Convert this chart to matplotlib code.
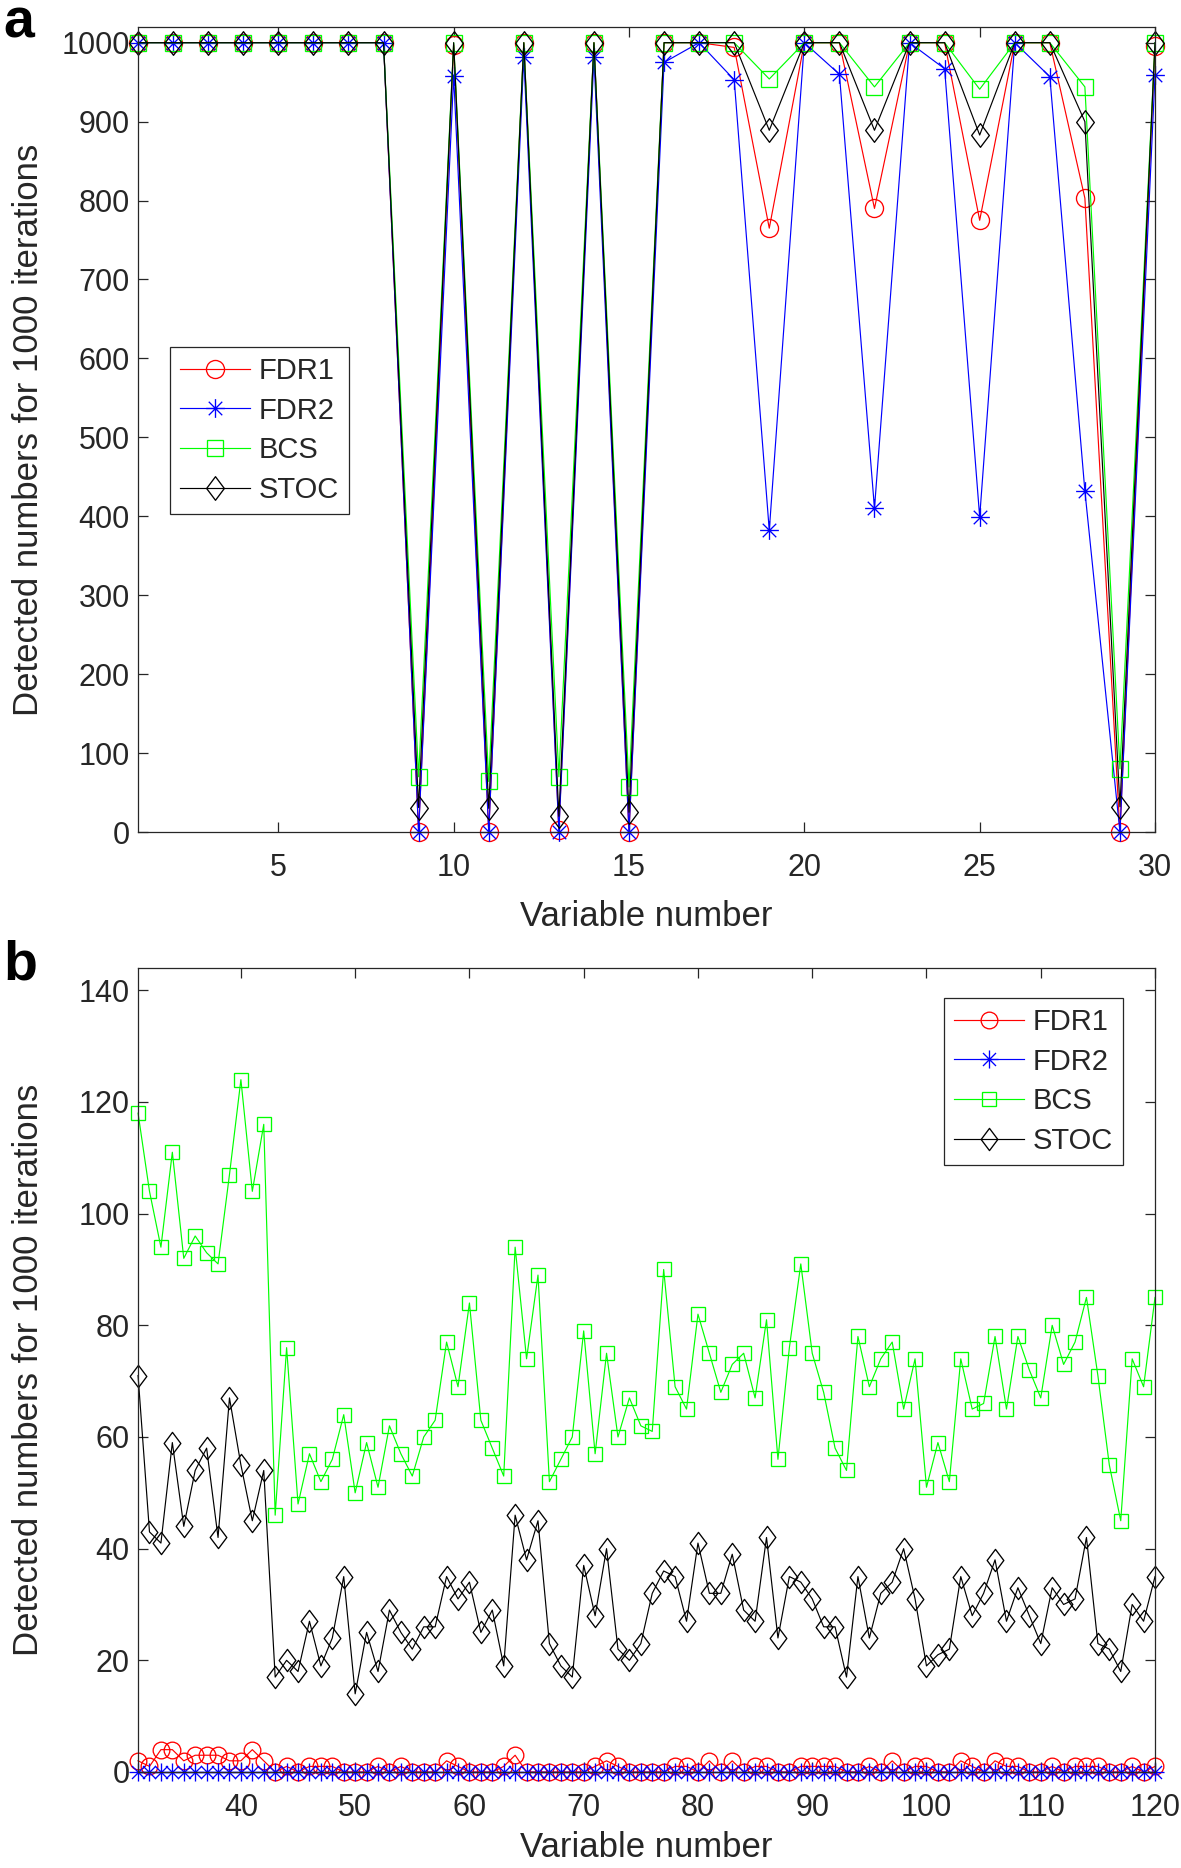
import matplotlib
matplotlib.use('Agg')
import matplotlib.pyplot as plt
from matplotlib.path import Path

plt.rcParams['font.family'] = ['Liberation Sans', 'DejaVu Sans']

# ---------------- data: panel a (variables 1-30) ----------------
x_a = [1, 2, 3, 4, 5, 6, 7, 8, 9, 10, 11, 12, 13, 14, 15,
       16, 17, 18, 19, 20, 21, 22, 23, 24, 25, 26, 27, 28, 29, 30]
fdr1_a = [1000, 1000, 1000, 1000, 1000, 1000, 1000, 1000, 0, 997,
          0, 1000, 3, 1000, 0, 1000, 1000, 994, 765, 1000,
          1000, 790, 1000, 1000, 775, 1000, 1000, 803, 0, 996]
fdr2_a = [1000, 1000, 1000, 1000, 1000, 1000, 1000, 1000, 0, 958,
          0, 982, 0, 982, 0, 975, 1000, 953, 382, 1000,
          960, 410, 1000, 967, 399, 1000, 957, 432, 0, 959]
bcs_a = [1000, 1000, 1000, 1000, 1000, 1000, 1000, 1000, 70, 1000,
         64, 1000, 70, 1000, 57, 1000, 1000, 1000, 954, 1000,
         1000, 944, 1000, 1000, 941, 1000, 1000, 944, 80, 1000]
stoc_a = [1000, 1000, 1000, 1000, 1000, 1000, 1000, 1000, 31, 1000,
          30, 1000, 20, 1000, 25, 1000, 1000, 1000, 889, 1000,
          1000, 889, 1000, 1000, 883, 1000, 1000, 900, 32, 1000]

# ---------------- data: panel b (variables 31-120) ----------------
x_b = list(range(31, 121))
fdr1_b = [2, 1, 4, 4, 2, 3, 3, 3, 2, 2,
          4, 2, 0, 1, 0, 1, 1, 1, 0, 0,
          0, 1, 0, 1, 0, 0, 0, 2, 1, 0,
          0, 0, 1, 3, 0, 0, 0, 0, 0, 0,
          1, 2, 1, 0, 0, 0, 0, 1, 1, 0,
          2, 0, 2, 0, 1, 1, 0, 0, 1, 1,
          1, 1, 0, 0, 1, 0, 2, 0, 1, 1,
          0, 0, 2, 1, 0, 2, 1, 1, 0, 0,
          1, 0, 1, 1, 1, 0, 0, 1, 0, 1]
fdr2_b = [0, 0, 0, 0, 0, 0, 0, 0, 0, 0,
          0, 0, 0, 0, 0, 0, 0, 0, 0, 0,
          0, 0, 0, 0, 0, 0, 0, 0, 0, 0,
          0, 0, 0, 0, 0, 0, 0, 0, 0, 0,
          0, 0, 0, 0, 0, 0, 0, 0, 0, 0,
          0, 0, 0, 0, 0, 0, 0, 0, 0, 0,
          0, 0, 0, 0, 0, 0, 0, 0, 0, 0,
          0, 0, 0, 0, 0, 0, 0, 0, 0, 0,
          0, 0, 0, 0, 0, 0, 0, 0, 0, 0]
bcs_b = [118, 104, 94, 111, 92, 96, 93, 91, 107, 124,
         104, 116, 46, 76, 48, 57, 52, 56, 64, 50,
         59, 51, 62, 57, 53, 60, 63, 77, 69, 84,
         63, 58, 53, 94, 74, 89, 52, 56, 60, 79,
         57, 75, 60, 67, 62, 61, 90, 69, 65, 82,
         75, 68, 73, 75, 67, 81, 56, 76, 91, 75,
         68, 58, 54, 78, 69, 74, 77, 65, 74, 51,
         59, 52, 74, 65, 66, 78, 65, 78, 72, 67,
         80, 73, 77, 85, 71, 55, 45, 74, 69, 85]
stoc_b = [71, 43, 41, 59, 44, 54, 58, 42, 67, 55,
          45, 54, 17, 20, 18, 27, 19, 24, 35, 14,
          25, 18, 29, 25, 22, 26, 26, 35, 31, 34,
          25, 29, 19, 46, 38, 45, 23, 19, 17, 37,
          28, 40, 22, 20, 23, 32, 36, 35, 27, 41,
          32, 32, 39, 29, 27, 42, 24, 35, 34, 31,
          26, 26, 17, 35, 24, 32, 34, 40, 31, 19,
          21, 22, 35, 28, 32, 38, 27, 33, 28, 23,
          33, 30, 31, 42, 23, 22, 18, 30, 27, 35]

labels = ['FDR1', 'FDR2', 'BCS', 'STOC']
colors = ['#FF0000', '#0000FF', '#00FF00', '#000000']
xticks_a = [5, 10, 15, 20, 25, 30]
yticks_a = [0, 100, 200, 300, 400, 500, 600, 700, 800, 900, 1000]
xticks_b = [40, 50, 60, 70, 80, 90, 100, 110, 120]
yticks_b = [0, 20, 40, 60, 80, 100, 120, 140]

# MATLAB-like markers
ast = Path([(-1, 0), (1, 0), (0, -1), (0, 1),
            (-0.72, -0.72), (0.72, 0.72), (-0.72, 0.72), (0.72, -0.72)],
           [Path.MOVETO, Path.LINETO] * 4)
dia = Path([(0, 1), (0.75, 0), (0, -1), (-0.75, 0), (0, 1)],
           [Path.MOVETO, Path.LINETO, Path.LINETO, Path.LINETO, Path.CLOSEPOLY])
markers = ['o', ast, 's', dia]
msizes_a = [13, 13.5, 11, 17]
msizes_b = [12, 13, 10.5, 16]

TXT = '#262626'

fig = plt.figure(figsize=(11.81, 18.68), dpi=100)
axa = fig.add_axes([0.1169, 0.5546, 0.8611, 0.4310])
axb = fig.add_axes([0.1169, 0.0514, 0.8611, 0.4304])


def draw(ax, x, ys, msizes):
    for y, lab, c, m, ms in zip(ys, labels, colors, markers, msizes):
        ax.plot(x, y, color=c, lw=0.85, marker=m, ms=ms, mfc='none',
                mec=c, mew=0.95, label=lab, clip_on=False)


def style(ax, xlab_y):
    for s in ax.spines.values():
        s.set_color(TXT)
        s.set_linewidth(0.9)
    ax.tick_params(direction='in', length=7, width=0.9, color=TXT,
                   labelcolor=TXT, labelsize=22, top=True, right=True)
    ax.tick_params(axis='y', pad=6)
    ax.tick_params(axis='x', pad=15)
    ax.set_ylabel('Detected numbers for 1000 iterations', fontsize=25, color=TXT)
    ax.set_xlabel('Variable number', fontsize=25, color=TXT)
    ax.yaxis.set_label_coords(-0.0914, 0.5)
    ax.xaxis.set_label_coords(0.5, xlab_y)


def legend(ax, loc, anchor):
    leg = ax.legend(loc=loc, bbox_to_anchor=anchor, borderaxespad=0,
                    fontsize=21, frameon=True, fancybox=False,
                    edgecolor=TXT, framealpha=1, handlelength=2.4,
                    handletextpad=0.3, labelspacing=0.40, borderpad=0.34)
    leg.get_frame().set_linewidth(0.9)
    for t in leg.get_texts():
        t.set_color(TXT)


draw(axa, x_a, [fdr1_a, fdr2_a, bcs_a, stoc_a], msizes_a)
axa.set_xlim(1, 30)
axa.set_ylim(0, 1020)
axa.set_xticks(xticks_a)
axa.set_yticks(yticks_a)
style(axa, -0.084)
legend(axa, 'upper left', (0.0315, 0.6025))

draw(axb, x_b, [fdr1_b, fdr2_b, bcs_b, stoc_b], msizes_b)
axb.set_xlim(31, 120)
axb.set_ylim(0, 144)
axb.set_xticks(xticks_b)
axb.set_yticks(yticks_b)
style(axb, -0.073)
legend(axb, 'upper right', (0.9685, 0.9627))

fig.text(3 / 1181, 1 - 38 / 1868, 'a', fontsize=40, fontweight='bold',
         va='baseline', ha='left')
fig.text(3 / 1181, 1 - 980 / 1868, 'b', fontsize=40, fontweight='bold',
         va='baseline', ha='left')

fig.savefig('out.png', dpi=100)
